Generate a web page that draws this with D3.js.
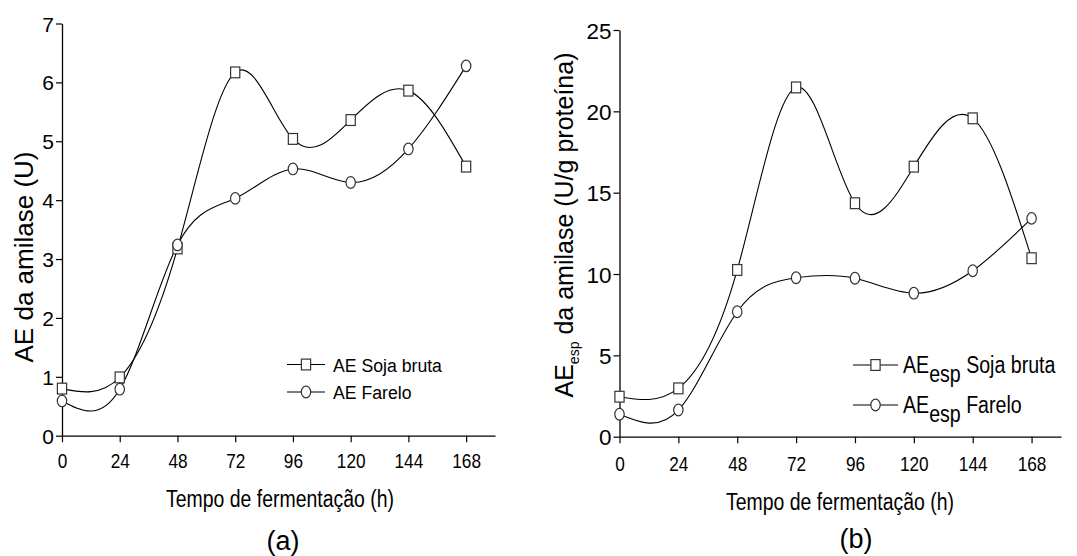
<!DOCTYPE html>
<html>
<head>
<meta charset="utf-8">
<script src="https://cdn.jsdelivr.net/npm/d3@7"></script>
<style>
  body { margin: 0; background: #fff; }
  svg { font-family: "Liberation Sans", Arial, sans-serif; }
</style>
</head>
<body>
<svg id="chart" width="1077" height="556"></svg>
<script>
// valores
var hours = [0, 24, 48, 72, 96, 120, 144, 168];
var sojaAE = [0.80, 0.99, 3.18, 6.17, 5.04, 5.36, 5.86, 4.57];
var fareloAE = [0.59, 0.79, 3.24, 4.03, 4.53, 4.30, 4.87, 6.28];
var sojaEsp = [2.46, 2.97, 10.25, 21.47, 14.35, 16.6, 19.57, 10.97];
var fareloEsp = [1.38, 1.64, 7.68, 9.77, 9.74, 8.82, 10.2, 13.42];

var xMajor = [0, 24, 48, 72, 96, 120, 144, 168];
var xMinor = [12, 36, 60, 84, 108, 132, 156, 180];
var yMajorA = [0, 1, 2, 3, 4, 5, 6, 7];
var yMajorB = [0, 5, 10, 15, 20, 25];

var svg = d3.select("#chart");

function zip(xs, ys) {
    return xs.map(function(x, i) { return {x: x, y: ys[i]}; });
}

function drawMarker(g, shape, cx, cy) {
    if (shape == "square") {
        g.append("rect")
            .attr("x", cx - 4.6).attr("y", cy - 5.4)
            .attr("width", 9.2).attr("height", 10.8)
            .attr("fill", "#fff").attr("stroke", "#333").attr("stroke-width", 1.2);
    } else {
        g.append("ellipse")
            .attr("cx", cx).attr("cy", cy)
            .attr("rx", 4.7).attr("ry", 5.8)
            .attr("fill", "#fff").attr("stroke", "#333").attr("stroke-width", 1.2);
    }
}

function drawPanel(p) {
    var x = d3.scaleLinear().domain([0, 180]).range([p.left, p.right]);
    var y = d3.scaleLinear().domain([0, p.yMax]).range([p.bottom, p.top]);
    var g = svg.append("g");

    // eixo x
    var gx = g.append("g").attr("transform", "translate(0," + p.bottom + ")");
    gx.call(d3.axisBottom(x).tickValues(xMinor).tickSize(4).tickFormat(""));
    gx.call(d3.axisBottom(x).tickValues(xMajor).tickSize(6.5).tickSizeOuter(0).tickFormat(d3.format("d")));
    gx.selectAll("path").attr("stroke", "#000").attr("stroke-width", 1.3);
    gx.selectAll("line").attr("stroke", "#000").attr("stroke-width", 1.2);
    gx.selectAll("text")
        .attr("y", p.xTickY).attr("dy", null)
        .attr("transform", "scale(0.82,1)")
        .style("font-size", "21px").attr("fill", "#000");

    // eixo y
    var gy = g.append("g").attr("transform", "translate(" + p.left + ",0)");
    gy.call(d3.axisLeft(y).tickValues(d3.range(0, p.yMax + 0.001, p.yMinor)).tickSize(3.5).tickFormat(""));
    gy.call(d3.axisLeft(y).tickValues(p.yMajor).tickSize(6).tickSizeOuter(0).tickFormat(d3.format("d")));
    gy.selectAll("path").attr("stroke", "#000").attr("stroke-width", 1.3);
    gy.selectAll("line").attr("stroke", "#000").attr("stroke-width", 1.2);
    gy.selectAll("text")
        .attr("x", -8).attr("dy", "0.36em")
        .style("font-size", p.yTickSize + "px").attr("fill", "#000");

    // curvas
    var line = d3.line()
        .x(function(d) { return x(d.x); })
        .y(function(d) { return y(d.y); })
        .curve(d3.curveNatural);

    p.series.forEach(function(s) {
        g.append("path")
            .datum(zip(hours, s.values))
            .attr("d", line)
            .attr("fill", "none").attr("stroke", "#000").attr("stroke-width", 1.1);
    });
    p.series.forEach(function(s) {
        var mg = g.append("g");
        zip(hours, s.values).forEach(function(d) {
            drawMarker(mg, s.shape, x(d.x), y(d.y));
        });
    });

    // legenda
    p.series.forEach(function(s, i) {
        var ly = p.legend.y[i];
        g.append("line")
            .attr("x1", p.legend.x1).attr("x2", p.legend.x2)
            .attr("y1", ly).attr("y2", ly)
            .attr("stroke", "#000").attr("stroke-width", 1.1);
        drawMarker(g, s.shape, (p.legend.x1 + p.legend.x2) / 2, ly);
        var t = g.append("text")
            .attr("transform", "translate(" + p.legend.tx + "," + (ly + p.legend.dy) + ") scale(" + p.legend.sx + ",1)")
            .style("font-size", p.legend.size + "px");
        s.label.forEach(function(part) {
            var ts = t.append("tspan").text(part.t);
            if (part.dy) ts.attr("dy", part.dy);
        });
    });

    // títulos dos eixos
    var yt = g.append("text")
        .attr("transform", "translate(" + p.yTitle.x + "," + p.yTitle.y + ") rotate(-90)")
        .attr("text-anchor", "middle")
        .style("font-size", p.yTitle.size + "px");
    p.yTitle.parts.forEach(function(part) {
        var ts = yt.append("tspan").text(part.t);
        if (part.dy) ts.attr("dy", part.dy);
        if (part.size) ts.style("font-size", part.size + "px");
    });

    g.append("text")
        .attr("transform", "translate(" + p.xTitle.x + "," + p.xTitle.y + ") scale(0.81,1)")
        .attr("text-anchor", "middle")
        .style("font-size", "24px")
        .text("Tempo de fermentação (h)");

    g.append("text")
        .attr("x", p.tag.x).attr("y", p.tag.y)
        .attr("text-anchor", "middle")
        .style("font-size", "27px")
        .text(p.tag.t);
}

drawPanel({
    left: 62, right: 495, bottom: 435.7, top: 23.5,
    yMax: 7, yMajor: yMajorA, yMinor: 0.5, yTickSize: 21, xTickY: 32,
    series: [
        {values: sojaAE, shape: "square", label: [{t: "AE Soja bruta"}]},
        {values: fareloAE, shape: "circle", label: [{t: "AE Farelo"}]}
    ],
    legend: {x1: 287, x2: 325, y: [364.5, 392], tx: 333, dy: 7, size: 19, sx: 0.93},
    yTitle: {x: 33, y: 257, size: 26, parts: [{t: "AE da amilase (U)"}]},
    xTitle: {x: 280, y: 507},
    tag: {x: 283, y: 550, t: "(a)"}
});

drawPanel({
    left: 619.5, right: 1061, bottom: 436.7, top: 30,
    yMax: 25, yMajor: yMajorB, yMinor: 2.5, yTickSize: 22.5, xTickY: 34,
    series: [
        {values: sojaEsp, shape: "square", label: [{t: "AE"}, {t: "esp", dy: 9}, {t: " Soja bruta", dy: -9}]},
        {values: fareloEsp, shape: "circle", label: [{t: "AE"}, {t: "esp", dy: 9}, {t: " Farelo", dy: -9}]}
    ],
    legend: {x1: 853, x2: 898, y: [365, 405], tx: 903, dy: 8, size: 24.5, sx: 0.8},
    yTitle: {x: 573, y: 225, size: 25, parts: [{t: "AE"}, {t: "esp", dy: 6, size: 14}, {t: " da amilase (U/g proteína)", dy: -6}]},
    xTitle: {x: 840, y: 510},
    tag: {x: 856, y: 548, t: "(b)"}
});
</script>
</body>
</html>
